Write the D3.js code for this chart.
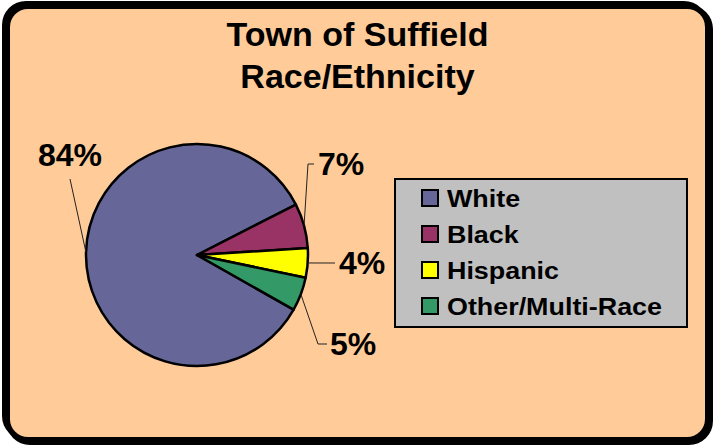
<!DOCTYPE html>
<html lang="en">
<head>
<meta charset="UTF-8">
<title>Town of Suffield Race/Ethnicity</title>
<script src="https://d3js.org/d3.v7.min.js"></script>
<style>
  html, body { margin: 0; padding: 0; background: #fff; }
  svg { display: block; font-family: 'Liberation Sans', Arial, sans-serif; }
</style>
</head>
<body>
<svg id="chart" width="713" height="445"></svg>
<script>
// data
const categories = ["White", "Black", "Hispanic", "Other/Multi-Race"];
const shares = [84.3, 6.5, 4.3, 4.9];
const labels = ["84%", "7%", "4%", "5%"];
const colors = ["#666699", "#993366", "#FFFF00", "#339966"];

// where each data label sits: elbow point, text x, baseline, anchor
const labelLayout = [
  { elbow: [70, 179], tail: null, tx: 70, ty: 166, anchor: "middle" },
  { elbow: [308, 164], tail: [314, 164], tx: 318, ty: 175, anchor: "start" },
  { elbow: [335, 263], tail: null, tx: 339, ty: 274, anchor: "start" },
  { elbow: [318, 344], tail: [327, 344], tx: 330, ty: 355, anchor: "start" }
];

const W = 713, H = 445;
const svg = d3.select("#chart");

// frame with drop shadow
svg.append("rect").attr("x", 6).attr("y", 5).attr("width", 707).attr("height", 440)
  .attr("rx", 24).attr("fill", "#000");
svg.append("rect").attr("x", 2).attr("y", 1).attr("width", 706).attr("height", 439)
  .attr("rx", 24).attr("fill", "#000");
svg.append("rect").attr("x", 10).attr("y", 9).attr("width", 695).attr("height", 428)
  .attr("rx", 18).attr("fill", "#FFCC99");

// title
const title = svg.append("text").attr("text-anchor", "middle")
  .attr("font-weight", "bold").attr("font-size", 34).attr("fill", "#000");
title.append("tspan").attr("x", W / 2 + 1).attr("y", 46).text("Town of Suffield");
title.append("tspan").attr("x", W / 2 + 1).attr("y", 88).text("Race/Ethnicity");

// pie
const cx = 197, cy = 255, r = 111;
const start = 119.5 * Math.PI / 180;
const pie = d3.pie().sort(null).startAngle(start).endAngle(start + 2 * Math.PI);
const arcs = pie(shares);
const arc = d3.arc().innerRadius(0).outerRadius(r);

const g = svg.append("g").attr("transform", `translate(${cx},${cy})`);
g.selectAll("path").data(arcs).enter().append("path")
  .attr("d", arc)
  .attr("fill", (d, i) => colors[i])
  .attr("stroke", "#000")
  .attr("stroke-width", 2.5)
  .attr("stroke-linejoin", "round");

// leader lines and labels
arcs.forEach((d, i) => {
  const a = (d.startAngle + d.endAngle) / 2;
  const p0 = [cx + r * Math.sin(a), cy - r * Math.cos(a)];
  const L = labelLayout[i];
  const pts = [p0, L.elbow];
  if (L.tail) pts.push(L.tail);
  svg.append("path")
    .attr("d", d3.line()(pts))
    .attr("fill", "none")
    .attr("stroke", "#222")
    .attr("stroke-width", 1);
  svg.append("text")
    .attr("x", L.tx).attr("y", L.ty)
    .attr("text-anchor", L.anchor)
    .attr("font-weight", "bold").attr("font-size", 32)
    .text(labels[i]);
});

// legend
const lg = svg.append("g");
lg.append("rect").attr("x", 395).attr("y", 179).attr("width", 292).attr("height", 148)
  .attr("fill", "#C0C0C0").attr("stroke", "#000").attr("stroke-width", 2);
const rowY = d3.scalePoint().domain(categories).range([198, 306]);
categories.forEach((c, i) => {
  const y = rowY(c);
  lg.append("rect").attr("x", 422).attr("y", y - 8).attr("width", 16).attr("height", 16)
    .attr("fill", colors[i]).attr("stroke", "#000").attr("stroke-width", 2);
  // Excel's legend text is a little wider than Liberation Sans at the same height
  lg.append("text")
    .attr("transform", `translate(447,${y + 9}) scale(1.12,1)`)
    .attr("font-weight", "bold").attr("font-size", 24)
    .text(c);
});
</script>
</body>
</html>
